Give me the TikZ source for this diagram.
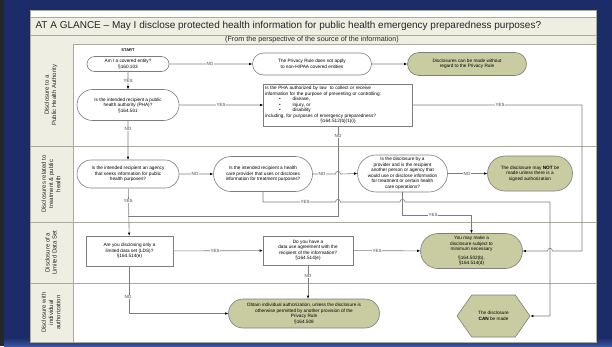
\documentclass[tikz,border=0pt]{standalone}
\usepackage{fontspec}
\setmainfont{Liberation Sans}
\usetikzlibrary{shapes.misc,shapes.symbols,arrows.meta,calc}
\definecolor{navy}{RGB}{28,44,104}
\definecolor{navylight}{RGB}{55,85,160}
\definecolor{beige}{RGB}{238,238,226}
\definecolor{olive}{RGB}{200,204,160}
\definecolor{edge}{RGB}{125,125,125}
\definecolor{laneline}{RGB}{170,170,160}
\begin{document}
\begin{tikzpicture}[x=1pt,y=-1pt,
  every node/.style={font=\fontsize{4.7}{5.5}\selectfont, align=center, text=black},
  q/.style={rounded rectangle, draw=edge, line width=0.6pt, fill=white, inner sep=0.5pt},
  res/.style={q, fill=olive},
  box/.style={rectangle, draw=edge, line width=0.6pt, fill=white, inner sep=1pt},
  conn/.style={draw=edge, line width=0.6pt},
  arr/.style={conn, -{Latex[length=3pt,width=2.6pt,color=black]}},
  lab/.style={fill=white, inner sep=0.6pt, font=\fontsize{4.5}{5}\selectfont, text=black!75},
  lanelab/.style={rotate=90, font=\fontsize{6}{7.2}\selectfont, align=center, text=black!85},
]
\useasboundingbox (0,0) rectangle (612,346);
% background
\fill[navy] (0,0) rectangle (612,346);
\fill[black!85] (0,0) rectangle (4,346);
\shade[top color=navy, bottom color=navylight] (4,338) rectangle (612,346);
% panel
\fill[white] (30,10) rectangle (596,342);
\fill[beige] (30,17) rectangle (596,44);
\draw[laneline, line width=0.6pt] (30,17) -- (596,17);
\draw[laneline, line width=0.6pt] (30,35) -- (596,35);
\draw[laneline, line width=0.8pt] (30,44) -- (596,44);
\fill[beige] (30,44) rectangle (73,342);
\draw[laneline, line width=0.8pt] (73,44) -- (73,342);
\foreach \yy in {146,222,283} \draw[laneline, line width=0.9pt] (30,\yy) -- (596,\yy);
\draw[laneline, line width=0.6pt] (30,10) rectangle (596,342);
% titles
\node[anchor=west, font=\fontsize{10}{12}\selectfont, text=black!85] (title) at (32,26) {AT A GLANCE -- May I disclose protected health information for public health emergency preparedness purposes?};
\node[font=\fontsize{7.2}{8}\selectfont, text=black!85] (subtitle) at (312,39.5) {(From the perspective of the source of the information)};
% lane labels
\node[lanelab] (lane1) at (51,95) {Disclosure to a\\Public Health Authority};
\node[lanelab] (lane2) at (51,184) {Disclosures related to\\treatment \& public\\health};
\node[lanelab] (lane3) at (51,252.5) {Disclosure of a\\Limited Data Set};
\node[lanelab] (lane4) at (51,312.5) {Disclosure with\\individual\\authorization};
% nodes
\node[font=\bfseries\fontsize{4}{5}\selectfont] (start) at (128,50) {START};
\node[q, minimum width=83pt, minimum height=15pt] (n2) at (128,64) {Am I a covered entity?\\§160.103};
\node[q, minimum width=120pt, minimum height=22pt] (n4) at (312,64) {The Privacy Rule does not apply\\to non-HIPAA covered entities};
\node[res, minimum width=120pt, minimum height=23pt] (n5) at (467,64) {Disclosures can be made without\\regard to the Privacy Rule};
\node[q, minimum width=103pt, minimum height=31pt] (n7) at (128,105) {Is the intended recipient a public\\health authority (PHA)?\\§164.501};
\node[box, text width=146pt, align=left, minimum height=42pt, inner sep=1.5pt] (n9) at (338,105) {Is the PHA authorized by law\ \ to collect or receive\\information for the purpose of preventing or controlling:\\\hspace*{14pt}\textbullet\hspace{12pt}disease,\\\hspace*{14pt}\textbullet\hspace{12pt}injury, or\\\hspace*{14pt}\textbullet\hspace{12pt}disability\\including, for purposes of emergency preparedness?\\\hspace*{\fill}§164.512(b)(1)(i)\hspace*{\fill}};
\node[q, minimum width=103pt, minimum height=28pt] (n12) at (128,174) {Is the intended recipient an agency\\that seeks information for public\\health purposes?};
\node[q, minimum width=100pt, minimum height=35pt] (n13) at (263,174) {Is the intended recipient a health\\care provider that uses or discloses\\information for treatment purposes?};
\node[q, minimum width=91pt, minimum height=37pt] (n14) at (402.5,173.5) {Is the disclosure by a\\provider and is the recipient\\another person or agency that\\would use or disclose information\\for treatment or certain health\\care operations?};
\node[res, minimum width=86pt, minimum height=35pt] (n15) at (530,173.5) {The disclosure may \textbf{NOT} be\\made unless there is a\\signed authorization};
\node[res, minimum width=103pt, minimum height=35pt] (n16) at (471.5,251) {You may make a\\disclosure subject to\\minimum necessary\\[3pt]§164.502(b),\\§164.514(d)};
\node[signal, signal to=east and west, signal pointer angle=110, draw=edge, line width=0.6pt, fill=olive, minimum width=73pt, minimum height=42pt, inner sep=0pt] (n17) at (493.5,316) {The disclosure\\\textbf{CAN} be made};
\node[box, minimum width=87pt, minimum height=30pt] (n18) at (129.5,251) {Are you disclosing only a\\limited data set (LDS)?\\§164.514(e)};
\node[box, minimum width=90pt, minimum height=29pt] (n19) at (308,250.5) {Do you have a\\data use agreement with the\\recipient of the information?\\§164.514(e)};
\node[res, minimum width=152pt, minimum height=29pt] (n20) at (304,313.5) {Obtain individual authorization, unless the disclosure is\\otherwise permitted by another provision of the\\Privacy Rule\\§164.508};
% connectors
\draw[arr] (n2) -- (n4);
\draw[arr] (n4) -- (n5);
\draw[arr] (n2) -- (n7);
\draw[arr] (n7) -- (n9.west |- n7);
\draw[arr] (n7) -- (n12);
\draw[arr] (n9.east) -- (582,105) -- (582,251) -- (552.5,251) .. controls (552.5,247.5) and (547.5,247.5) .. (547.5,251) -- (n16.east);
\draw[conn] (n9.south) -- (338,216) -- (128,216);
\draw[arr] (n12) -- (n13);
\draw[arr] (n12) -- (n18);
\draw[arr] (n13.east) -- (335.5,174) .. controls (335.5,170.5) and (340.5,170.5) .. (340.5,174) -- (n14.west);
\draw[arr] (n13.south) -- (263,202) -- (335.5,202) .. controls (335.5,198.5) and (340.5,198.5) .. (340.5,202) -- (400,202) .. controls (400,198.5) and (405,198.5) .. (405,202) -- (550,202) -- (550,316) -- (n17.east);
\draw[arr] (n14) -- (n15);
\draw[arr] (n14.south) -- (402.5,215) -| (n16.north);
\draw[arr] (n18) -- (n19);
\draw[arr] (n19) -- (n16);
\draw[arr] (n19.south) -- (n19.south |- n20.north);
\draw[arr] (n18.south) |- (n20.west);
% connector labels
\node[lab] (l1) at (210,64) {NO};
\node[lab] (l2) at (128,81) {YES};
\node[lab] (l3) at (221,105) {YES};
\node[lab] (l4) at (128,129) {NO};
\node[lab] (l5) at (338,136) {NO};
\node[lab] (l6) at (500,105) {YES};
\node[lab] (l7) at (195,174) {NO};
\node[lab] (l8) at (128,201) {YES};
\node[lab] (l9) at (322,174) {NO};
\node[lab] (l10) at (305,202) {YES};
\node[lab] (l11) at (467,173.5) {NO};
\node[lab] (l12) at (433,215) {YES};
\node[lab] (l13) at (215,251) {YES};
\node[lab] (l14) at (377,251) {YES};
\node[lab] (l15) at (308,276) {NO};
\node[lab] (l16) at (128,297) {NO};
\end{tikzpicture}
\end{document}
